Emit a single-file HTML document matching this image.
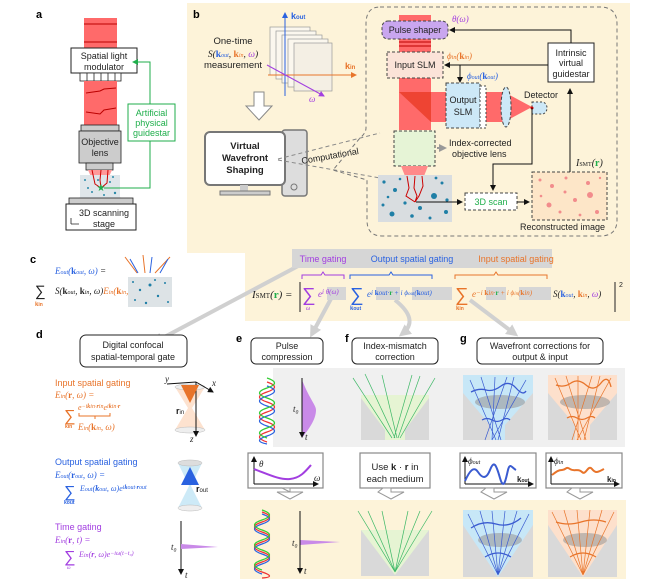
<!DOCTYPE html>
<html><head><meta charset="utf-8"><style>
html,body{margin:0;padding:0;background:#fff}
svg{display:block}
text{font-family:"Liberation Sans",sans-serif;font-size:9px;fill:#222}
.m{font-family:"Liberation Serif",serif;font-style:italic}
.b{font-weight:bold}
.lab{font-size:11px;font-weight:bold;fill:#000}
</style></head><body>
<svg width="664" height="581" viewBox="0 0 664 581" xmlns="http://www.w3.org/2000/svg">
<defs>
<marker id="ak" markerWidth="6" markerHeight="6" refX="5" refY="3" orient="auto"><path d="M0,0L6,3L0,6z" fill="#111"/></marker>
<marker id="ag" markerWidth="6" markerHeight="6" refX="5" refY="3" orient="auto"><path d="M0,0L6,3L0,6z" fill="#1fae4b"/></marker>
<marker id="ab" markerWidth="6" markerHeight="6" refX="5" refY="3" orient="auto"><path d="M0,0L6,3L0,6z" fill="#2a62e0"/></marker>
<marker id="ap" markerWidth="6" markerHeight="6" refX="5" refY="3" orient="auto"><path d="M0,0L6,3L0,6z" fill="#a23ee0"/></marker>
<marker id="ao" markerWidth="6" markerHeight="6" refX="5" refY="3" orient="auto"><path d="M0,0L6,3L0,6z" fill="#e8742a"/></marker>
<marker id="ay" markerUnits="userSpaceOnUse" markerWidth="12" markerHeight="12" refX="8" refY="6" orient="auto"><path d="M0,0L12,6L0,12z" fill="#d0d0d0"/></marker>
<marker id="ay2" markerUnits="userSpaceOnUse" markerWidth="8" markerHeight="8" refX="5" refY="4" orient="auto"><path d="M0,0L8,4L0,8z" fill="#999"/></marker>
</defs>

<path d="M187,3H630V321H245V253H187Z" fill="#fdf3d9"/>
<rect x="240" y="500" width="386" height="79" fill="#fdf3d9"/>
<rect x="273" y="368" width="352" height="79" fill="#f0f0f0"/>

<g stroke="#d0d0d0" stroke-width="4" fill="none">
<path d="M300,265L155,342" marker-end="url(#ay)"/>
<path d="M333,295L312,334" marker-end="url(#ay)"/>
<path d="M395,300Q420,320 402,334" marker-end="url(#ay)"/>
<path d="M470,300L515,334" marker-end="url(#ay)"/>
</g>

<!-- Panel a -->
<text x="36" y="18" class="lab">a</text>
<rect x="84" y="18" width="33" height="30" fill="#ff6a6a"/>
<line x1="84" y1="24" x2="117" y2="24" stroke="#b00"/>
<line x1="84" y1="42" x2="117" y2="42" stroke="#b00"/>
<rect x="71" y="48" width="66" height="25" fill="#fff" stroke="#222"/>
<text x="104" y="59" text-anchor="middle">Spatial light</text>
<text x="104" y="70" text-anchor="middle">modulator</text>
<rect x="80" y="73" width="41" height="8" fill="#fff" stroke="#222" stroke-width="0.8"/>
<g stroke="#222" stroke-width="0.8"><line x1="87" y1="73" x2="87" y2="81"/><line x1="94" y1="73" x2="94" y2="81"/><line x1="101" y1="73" x2="101" y2="81"/><line x1="108" y1="73" x2="108" y2="81"/><line x1="115" y1="73" x2="115" y2="81"/></g>
<rect x="84" y="81" width="33" height="44" fill="#ff6a6a"/>
<path d="M86,93L100,91L104,89L116,88M86,112L100,114L104,110L116,108" stroke="#b00" fill="none"/>
<rect x="81" y="125" width="38" height="6" fill="#ccc" stroke="#222" stroke-width="0.8"/>
<rect x="79" y="131" width="42" height="32" fill="#ccc" stroke="#222" stroke-width="0.8"/>
<text x="100" y="145" text-anchor="middle">Objective</text>
<text x="100" y="156" text-anchor="middle">lens</text>
<rect x="86" y="163" width="27" height="7" fill="#ccc" stroke="#222" stroke-width="0.8"/>
<path d="M88,170L112,170L104,188L96,188Z" fill="#ff9a9a"/>
<rect x="80" y="175" width="40" height="23" fill="#dfe6ea"/>
<g fill="#2a8aa8"><circle cx="85" cy="180" r="1"/><circle cx="92" cy="192" r="1"/><circle cx="110" cy="182" r="1"/><circle cx="115" cy="193" r="1.2"/><circle cx="88" cy="188" r="1"/><circle cx="104" cy="195" r="1"/><circle cx="98" cy="180" r="1"/><circle cx="113" cy="177" r="1"/></g>
<path d="M92,170L95,184L101,188M101,170L100,180L101,188M108,170L107,183L101,188" stroke="#c00" fill="none"/>
<text x="101" y="191" text-anchor="middle" style="fill:#1fae4b;font-size:10px">★</text>
<path d="M80,198L74,204M120,198L126,204" stroke="#222"/>
<rect x="69" y="198" width="64" height="6" fill="#ccc" stroke="#222" stroke-width="0.8"/>
<rect x="66" y="204" width="70" height="26" fill="#fff" stroke="#222"/>
<text x="104" y="216" text-anchor="middle">3D scanning</text>
<text x="104" y="227" text-anchor="middle">stage</text>
<path d="M71,224h8M71,224v-6" stroke="#222" stroke-width="0.8"/>
<path d="M150,104V62H133" stroke="#1fae4b" fill="none" marker-end="url(#ag)"/>
<path d="M150,141V188H104" stroke="#1fae4b" fill="none"/>
<rect x="128" y="104" width="47" height="37" fill="#fff" stroke="#1fae4b"/>
<text x="151.5" y="116" text-anchor="middle" style="fill:#1fae4b">Artificial</text>
<text x="151.5" y="126" text-anchor="middle" style="fill:#1fae4b">physical</text>
<text x="151.5" y="136" text-anchor="middle" style="fill:#1fae4b">guidestar</text>

<!-- Panel b -->
<text x="193" y="18" class="lab">b</text>
<text x="233" y="44" text-anchor="middle" style="font-size:9.5px">One-time</text>
<text x="233" y="57" text-anchor="middle" class="m" style="font-size:9.5px">S(<tspan class="b" style="fill:#2a62e0;font-style:normal">k</tspan><tspan style="fill:#2a62e0;font-size:6px">out</tspan>, <tspan class="b" style="fill:#e8742a;font-style:normal">k</tspan><tspan style="fill:#e8742a;font-size:6px">in</tspan>, <tspan style="fill:#a23ee0">ω</tspan>)</text>
<text x="233" y="68" text-anchor="middle" style="font-size:9.5px">measurement</text>
<g fill="#fbf7ee" stroke="#999" stroke-width="0.7">
<rect x="270" y="27" width="40" height="48"/><rect x="276" y="31" width="40" height="48"/><rect x="282" y="35" width="40" height="48"/><rect x="288" y="39" width="40" height="48"/><rect x="294" y="43" width="38" height="48" fill="#f4efe4"/>
</g>
<line x1="268" y1="75" x2="356" y2="75" stroke="#e8742a" marker-end="url(#ao)"/>
<text x="345" y="69" class="b" style="fill:#e8742a">k<tspan style="font-size:6px">in</tspan></text>
<line x1="285" y1="96" x2="285" y2="13" stroke="#2a62e0" marker-end="url(#ab)"/>
<text x="291" y="19" class="b" style="fill:#2a62e0">k<tspan style="font-size:6px">out</tspan></text>
<line x1="267" y1="65" x2="324" y2="96" stroke="#a23ee0" marker-end="url(#ap)"/>
<text x="309" y="102" class="m" style="fill:#a23ee0">ω</text>
<path d="M254,92h10v14h8l-13,14l-13,-14h8z" fill="#fff" stroke="#888"/>
<rect x="282" y="130" width="25" height="66" rx="3" fill="#ddd" stroke="#777" stroke-width="1.5"/>
<circle cx="294" cy="187" r="3" fill="none" stroke="#777"/>
<rect x="205" y="132" width="80" height="53" rx="5" fill="#fff" stroke="#777" stroke-width="2"/>
<rect x="240" y="185" width="8" height="6" fill="#ccc"/>
<rect x="220" y="191" width="50" height="4" fill="#ccc" stroke="#777"/>
<text x="245" y="149" text-anchor="middle" class="b" style="font-size:9.5px">Virtual</text>
<text x="245" y="161" text-anchor="middle" class="b" style="font-size:9.5px">Wavefront</text>
<text x="245" y="173" text-anchor="middle" class="b" style="font-size:9.5px">Shaping</text>
<path d="M278,159L380,133M278,160L380,178" stroke="#888" stroke-dasharray="4,3" fill="none"/>
<text x="302" y="164" transform="rotate(-10 302 164)">Computational</text>
<path d="M380,7H600Q617,7 617,24V220Q617,236 600,236H382Q367,236 367,220V180L333,170L360,138Q366,133 366,128V24Q366,7 380,7Z" fill="none" stroke="#777" stroke-dasharray="4,3"/>
<rect x="399" y="15" width="32" height="115" fill="#ff6a6a"/>
<rect x="431" y="92" width="73" height="30" fill="#ff6a6a"/>
<path d="M399,92h32v30z" fill="#e43"/>
<path d="M504,92L532,107L504,122Z" fill="#ff6a6a"/>
<line x1="399" y1="42" x2="431" y2="42" stroke="#b00"/><line x1="399" y1="46" x2="431" y2="46" stroke="#b00"/>
<rect x="382" y="21" width="66" height="18" rx="6" fill="#c9a6ef" stroke="#444" stroke-dasharray="3,2"/>
<text x="415" y="33" text-anchor="middle">Pulse shaper</text>
<text x="452" y="22" class="m" style="fill:#a23ee0">θ(ω)</text>
<rect x="387" y="52" width="56" height="26" fill="#fbe3d8" stroke="#444" stroke-dasharray="3,2"/>
<text x="415" y="68" text-anchor="middle">Input SLM</text>
<text x="447" y="59" class="m" style="fill:#e8742a">ϕ<tspan style="font-size:6px">in</tspan>(<tspan class="b" style="font-style:normal">k</tspan><tspan style="font-size:6px">in</tspan>)</text>
<rect x="446" y="83" width="34" height="45" fill="#cde8f7" stroke="#444" stroke-dasharray="3,2"/>
<rect x="480" y="86" width="6" height="42" fill="#fff" stroke="#444" stroke-dasharray="2,2"/>
<text x="463" y="103" text-anchor="middle">Output</text>
<text x="463" y="115" text-anchor="middle">SLM</text>
<text x="467" y="79" class="m" style="fill:#2a62e0">ϕ<tspan style="font-size:6px">out</tspan>(<tspan class="b" style="font-style:normal">k</tspan><tspan style="font-size:6px">out</tspan>)</text>
<ellipse cx="506" cy="107" rx="5" ry="20" fill="#cde8f7" stroke="#444" stroke-dasharray="3,2"/>
<path d="M532,102h10a5,6 0 0 1 0,12h-10z" fill="#cde8f7" stroke="#444" stroke-dasharray="2,2"/>
<circle cx="532" cy="108" r="1.5" fill="#c00"/>
<text x="524" y="98">Detector</text>
<rect x="548" y="43" width="46" height="39" fill="#fff" stroke="#222"/>
<text x="571" y="56" text-anchor="middle">Intrinsic</text>
<text x="571" y="66" text-anchor="middle">virtual</text>
<text x="571" y="77" text-anchor="middle">guidestar</text>
<path d="M571,43V30H450" stroke="#111" fill="none" marker-end="url(#ak)"/>
<path d="M548,65H445" stroke="#111" fill="none" marker-end="url(#ak)"/>
<path d="M460,65V82" stroke="#111" fill="none" marker-end="url(#ak)"/>
<rect x="394" y="131" width="41" height="35" fill="#e6f4d6" stroke="#444" stroke-dasharray="3,2"/>
<path d="M401,166h27l-4,10h-19z" fill="#ff8a8a"/>
<path d="M437,148H444" stroke="#999" stroke-width="2" marker-end="url(#ay2)"/>
<text x="449" y="146">Index-corrected</text>
<text x="452" y="157">objective lens</text>
<rect x="378" y="175" width="74" height="47" fill="#d9dde0"/>
<g fill="#1f7fa6"><circle cx="384" cy="182" r="1.6"/><circle cx="395" cy="190" r="2"/><circle cx="383" cy="205" r="1.5"/><circle cx="392" cy="214" r="2.5"/><circle cx="405" cy="203" r="1.6"/><circle cx="412" cy="216" r="1.8"/><circle cx="420" cy="208" r="2"/><circle cx="434" cy="196" r="3"/><circle cx="442" cy="183" r="1.5"/><circle cx="446" cy="212" r="2"/><circle cx="430" cy="218" r="1.5"/><circle cx="436" cy="178" r="1.4"/><circle cx="400" cy="179" r="1.3"/><circle cx="388" cy="197" r="1.3"/><circle cx="447" cy="200" r="1.6"/></g>
<path d="M407,176l2,12l-3,8l9,6M415,176l-1,12l3,8l-2,6M422,176l1,10l-4,10l-4,6" stroke="#c00" fill="none"/>
<path d="M416,202H462" stroke="#111" marker-end="url(#ak)"/>
<rect x="465" y="193" width="52" height="17" fill="#fff" stroke="#444" stroke-dasharray="3,2"/>
<text x="491" y="205" text-anchor="middle" style="fill:#1fae4b">3D scan</text>
<path d="M517,202H529" stroke="#111" marker-end="url(#ak)"/>
<path d="M532,108V164H493V190" stroke="#111" fill="none" marker-end="url(#ak)"/>
<rect x="532" y="172" width="75" height="48" fill="#fde6c8" stroke="#444" stroke-dasharray="3,2"/>
<g fill="#f28c8c"><circle cx="540" cy="180" r="1.5"/><circle cx="552" cy="186" r="2"/><circle cx="566" cy="178" r="1.5"/><circle cx="588" cy="183" r="2"/><circle cx="600" cy="178" r="1.2"/><circle cx="590" cy="195" r="3"/><circle cx="575" cy="200" r="2"/><circle cx="549" cy="205" r="2.5"/><circle cx="560" cy="212" r="1.5"/><circle cx="597" cy="212" r="2"/><circle cx="580" cy="215" r="1.4"/><circle cx="541" cy="196" r="1.3"/><circle cx="565" cy="192" r="1.5"/></g>
<text x="520" y="230">Reconstructed image</text>
<path d="M570,172V89" stroke="#111" marker-end="url(#ak)"/>
<text x="576" y="166" class="m" style="font-size:10px">I<tspan style="font-size:6px;font-style:normal">SMT</tspan>(<tspan class="b" style="fill:#1fae4b;font-style:normal">r</tspan>)</text>

<!-- Panel c -->
<text x="30" y="263" class="lab">c</text>
<text x="55" y="274" class="m" style="fill:#2a62e0">E<tspan style="font-size:6px">out</tspan>(<tspan class="b" style="font-style:normal">k</tspan><tspan style="font-size:6px">out</tspan>, ω) <tspan style="fill:#222">=</tspan></text>
<text x="35" y="296" style="font-size:15px">∑</text>
<text x="35" y="306" class="b" style="fill:#e8742a;font-size:6px">k<tspan style="font-size:5px">in</tspan></text>
<text x="55" y="294" class="m">S(<tspan class="b" style="font-style:normal">k</tspan><tspan style="font-size:6px">out</tspan>, <tspan class="b" style="font-style:normal">k</tspan><tspan style="font-size:6px">in</tspan>, ω)<tspan style="fill:#e8742a">E<tspan style="font-size:6px">in</tspan>(<tspan class="b" style="font-style:normal">k</tspan><tspan style="font-size:6px">in</tspan>, ω)</tspan></text>
<rect x="128" y="277" width="44" height="30" fill="#dde3e6"/>
<g fill="#1f7fa6"><circle cx="133" cy="282" r="1"/><circle cx="140" cy="290" r="1.2"/><circle cx="150" cy="285" r="1.5"/><circle cx="158" cy="296" r="1.2"/><circle cx="165" cy="283" r="1"/><circle cx="135" cy="300" r="1"/><circle cx="146" cy="303" r="1.2"/><circle cx="168" cy="302" r="1"/><circle cx="155" cy="280" r="1"/></g>
<g stroke="#e8742a"><path d="M125,257L137,273M143,255L145,273M170,257L155,273"/></g>
<g stroke="#2a62e0"><path d="M138,273L130,259M150,273L152,257M160,273L168,259"/></g>

<rect x="292" y="249" width="260" height="19" fill="#d6d6d6"/>
<text x="323" y="262" text-anchor="middle" style="fill:#a23ee0">Time gating</text>
<text x="412" y="262" text-anchor="middle" style="fill:#2a62e0">Output spatial gating</text>
<text x="516" y="262" text-anchor="middle" style="fill:#e8742a">Input spatial gating</text>
<path d="M302,279v-4h19l2,-3l2,3h19v4" stroke="#a23ee0" fill="none"/>
<path d="M350,279v-4h39l2,-3l2,3h39v4" stroke="#2a62e0" fill="none"/>
<path d="M455,279v-4h39l2,-3l2,3h49v4" stroke="#e8742a" fill="none"/>
<rect x="327" y="287" width="19" height="13" fill="#d6d6d6"/>
<rect x="376" y="287" width="24" height="13" fill="#d6d6d6"/>
<rect x="412" y="287" width="40" height="13" fill="#d6d6d6"/>
<rect x="486" y="287" width="20" height="13" fill="#d6d6d6"/>
<rect x="519" y="287" width="32" height="13" fill="#d6d6d6"/>
<text x="252" y="298" class="m" style="font-size:11px">I<tspan style="font-size:7px;font-style:normal">SMT</tspan>(<tspan class="b" style="fill:#1fae4b;font-style:normal">r</tspan>) =</text>
<line x1="300" y1="282" x2="300" y2="312" stroke="#222"/>
<line x1="615" y1="282" x2="615" y2="312" stroke="#222"/>
<text x="619" y="287" style="font-size:7px">2</text>
<text x="302" y="301" style="font-size:19px;fill:#a23ee0">∑</text>
<text x="306" y="310" class="m" style="font-size:6px;fill:#a23ee0">ω</text>
<text x="318" y="297" class="m" style="fill:#a23ee0;font-size:9px">e<tspan dy="-3" style="font-size:7px">i θ(ω)</tspan></text>
<text x="350" y="301" style="font-size:19px;fill:#2a62e0">∑</text>
<text x="350" y="310" class="b" style="font-size:6px;fill:#2a62e0">k<tspan style="font-size:5px">out</tspan></text>
<text x="367" y="297" class="m" style="fill:#2a62e0;font-size:9px">e<tspan dy="-2" style="font-size:7px">i <tspan class="b" style="font-style:normal">k</tspan>out·<tspan class="b" style="fill:#1fae4b;font-style:normal">r</tspan> + i ϕ<tspan style="font-size:5px">out</tspan>(<tspan class="b" style="font-style:normal">k</tspan>out)</tspan></text>
<text x="455" y="301" style="font-size:19px;fill:#e8742a">∑</text>
<text x="456" y="310" class="b" style="font-size:6px;fill:#e8742a">k<tspan style="font-size:5px">in</tspan></text>
<text x="472" y="297" class="m" style="fill:#e8742a;font-size:9px">e<tspan dy="-2" style="font-size:7px">−i <tspan class="b" style="font-style:normal">k</tspan>in·<tspan class="b" style="fill:#1fae4b;font-style:normal">r</tspan> + i ϕ<tspan style="font-size:5px">in</tspan>(<tspan class="b" style="font-style:normal">k</tspan>in)</tspan></text>
<text x="553" y="297" class="m" style="font-size:9px">S(<tspan class="b" style="fill:#2a62e0;font-style:normal">k</tspan><tspan style="fill:#2a62e0;font-size:6px">out</tspan>, <tspan class="b" style="fill:#e8742a;font-style:normal">k</tspan><tspan style="fill:#e8742a;font-size:6px">in</tspan>, <tspan style="fill:#a23ee0">ω</tspan>)</text>

<!-- Panel d -->
<text x="36" y="338" class="lab">d</text>
<rect x="80" y="335" width="107" height="32" rx="6" fill="#fff" stroke="#222"/>
<text x="133" y="348" text-anchor="middle">Digital confocal</text>
<text x="133" y="360" text-anchor="middle">spatial-temporal gate</text>
<text x="55" y="386" style="fill:#e8742a">Input spatial gating</text>
<text x="55" y="398" class="m" style="fill:#e8742a">E<tspan style="font-size:6px">in</tspan>(<tspan class="b" style="font-style:normal">r</tspan>, ω) =</text>
<text x="64" y="421" style="font-size:16px;fill:#e8742a">∑</text>
<text x="65" y="428" class="b" style="font-size:5px;fill:#e8742a">kin</text>
<text x="78" y="410" class="m" style="fill:#e8742a;font-size:8px">e<tspan dy="-2" style="font-size:6px">−i<tspan class="b">k</tspan>in·<tspan class="b">r</tspan>in</tspan><tspan dy="2">e</tspan><tspan dy="-2" style="font-size:6px">i<tspan class="b">k</tspan>in·<tspan class="b">r</tspan></tspan></text>
<path d="M79,413v3h31v-3M95,416v3" stroke="#e8742a" fill="none"/>
<text x="78" y="430" class="m" style="fill:#e8742a">E<tspan style="font-size:6px">in</tspan>(<tspan class="b" style="font-style:normal">k</tspan><tspan style="font-size:6px">in</tspan>, ω)</text>
<path d="M175,387L205,387L192,408L205,430L175,430L188,408Z" fill="#fde2cf"/>
<ellipse cx="190" cy="387" rx="15" ry="3" fill="#eee" stroke="#bbb" stroke-width="0.5"/>
<ellipse cx="190" cy="430" rx="15" ry="3" fill="#eee" stroke="#bbb" stroke-width="0.5"/>
<path d="M196,382V436" stroke="#111" marker-end="url(#ak)"/>
<path d="M196,382L167,384M196,382L213,392" stroke="#111" marker-end="url(#ak)"/>
<text x="165" y="382" class="m">y</text><text x="212" y="386" class="m">x</text><text x="190" y="442" class="m">z</text>
<path d="M190,394v6" stroke="#e8a070" stroke-width="3" marker-end="url(#ao)"/>
<text x="176" y="414" class="b">r<tspan style="font-size:6px;font-weight:normal">in</tspan></text>
<text x="55" y="465" style="fill:#2a62e0">Output spatial gating</text>
<text x="55" y="478" class="m" style="fill:#2a62e0">E<tspan style="font-size:6px">out</tspan>(<tspan class="b" style="font-style:normal">r</tspan><tspan style="font-size:6px">out</tspan>, ω) =</text>
<text x="64" y="497" style="font-size:16px;fill:#2a62e0">∑</text>
<text x="64" y="504" class="b" style="font-size:5px;fill:#2a62e0">kout</text>
<text x="80" y="491" class="m" style="fill:#2a62e0;font-size:8px">E<tspan style="font-size:6px">out</tspan>(<tspan class="b">k</tspan><tspan style="font-size:6px">out</tspan>, ω)e<tspan dy="-2" style="font-size:6px">i<tspan class="b">k</tspan>out·<tspan class="b">r</tspan>out</tspan></text>
<path d="M178,463L202,463L191,486L202,508L178,508L189,486Z" fill="#cdeaf7"/>
<ellipse cx="190" cy="463" rx="12" ry="3" fill="#ddd" stroke="#bbb" stroke-width="0.5"/>
<ellipse cx="190" cy="508" rx="12" ry="3" fill="#eee" stroke="#bbb" stroke-width="0.5"/>
<path d="M190,478v-8" stroke="#29a0d8" stroke-width="3" marker-end="url(#ab)"/>
<text x="196" y="492" class="b">r<tspan style="font-size:6px;font-weight:normal">out</tspan></text>
<text x="55" y="530" style="fill:#a23ee0">Time gating</text>
<text x="55" y="543" class="m" style="fill:#a23ee0">E<tspan style="font-size:6px">in</tspan>(<tspan class="b" style="font-style:normal">r</tspan>, t) =</text>
<text x="64" y="562" style="font-size:16px;fill:#a23ee0">∑</text>
<text x="67" y="569" class="m" style="font-size:5px;fill:#a23ee0">ω</text>
<text x="79" y="557" class="m" style="fill:#a23ee0;font-size:8px">E<tspan style="font-size:6px">in</tspan>(<tspan class="b">r</tspan>, ω)e<tspan dy="-2" style="font-size:6px">−iω(t−t₀)</tspan></text>
<path d="M181,521V574" stroke="#111" marker-end="url(#ak)"/>
<path d="M181,544L218,547L181,549Z" fill="#c98ae8"/>
<text x="171" y="550" class="m">t₀</text><text x="185" y="578" class="m">t</text>

<!-- e f g -->
<text x="236" y="342" class="lab">e</text>
<rect x="251" y="338" width="72" height="26" rx="5" fill="#fff" stroke="#222"/>
<text x="287" y="349" text-anchor="middle">Pulse</text>
<text x="287" y="360" text-anchor="middle">compression</text>
<text x="345" y="342" class="lab">f</text>
<rect x="352" y="338" width="86" height="26" rx="5" fill="#fff" stroke="#222"/>
<text x="395" y="349" text-anchor="middle">Index-mismatch</text>
<text x="395" y="360" text-anchor="middle">correction</text>
<text x="460" y="342" class="lab">g</text>
<rect x="477" y="338" width="126" height="26" rx="5" fill="#fff" stroke="#222"/>
<text x="540" y="349" text-anchor="middle">Wavefront corrections for</text>
<text x="540" y="360" text-anchor="middle">output &amp; input</text>

<g fill="none" stroke-width="1.2">
<path d="M260,382q15,5 0,10t0,10t0,10t0,10t0,10t0,10" stroke="#e33" transform="translate(7,0)"/>
<path d="M260,386q15,5 0,10t0,10t0,10t0,10t0,10t0,8" stroke="#2a62e0" transform="translate(7,0)"/>
<path d="M260,378q15,5 0,10t0,10t0,10t0,10t0,10t0,10" stroke="#3c3" transform="translate(7,0)"/>
</g>
<path d="M302,380C310,400 316,405 316,410C316,420 308,430 302,438Z" fill="#c98ae8"/>
<path d="M302,378V437" stroke="#111" marker-end="url(#ak)"/>
<text x="293" y="412" class="m">t₀</text><text x="305" y="440" class="m">t</text>
<rect x="361" y="395" width="68" height="45" fill="#d9d9d9"/>
<path d="M361,395H429V398L405,430V440H385V430L361,398Z" fill="#e6f4d3"/>
<g stroke="#3db866" stroke-width="0.7"><path d="M353,378L392,438M365,374L395,438M382,375L397,438M412,375L394,438M420,376L398,438M435,378L400,438"/></g>
<rect x="463" y="375" width="70" height="65" fill="#d9d9d9"/>
<path d="M463,375H533V393L505,425V440H490V425L463,393Z" fill="#c7e7f7"/>
<rect x="548" y="375" width="69" height="65" fill="#d9d9d9"/>
<path d="M548,375H617V393L590,425V440H575V425L548,393Z" fill="#fde0cc"/>
<ellipse cx="500" cy="402" rx="25" ry="7" fill="#999" opacity="0.6"/>
<ellipse cx="585" cy="402" rx="25" ry="7" fill="#999" opacity="0.6"/>
<g stroke="#3a5bd0" stroke-width="0.7"><path d="M470,380L496,440M481,377L501,440M495,377L492,440M507,377L485,440M514,377L498,440M526,380L492,440"/></g>
<path d="M471,392q8,-4 15,-2t15,-4t15,2t10,3" stroke="#3a5bd0" stroke-width="1.3" fill="none"/>
<path d="M482,420q5,-3 10,0t10,0t8,0" stroke="#3a5bd0" stroke-width="1.3" fill="none"/>
<g stroke="#e8742a" stroke-width="0.7"><path d="M555,378L581,440M566,376L586,440M578,376L578,440M592,376L572,440M600,376L584,440M611,378L577,440"/></g>
<path d="M556,385q8,3 15,-2t15,2t15,-2t10,4" stroke="#e8742a" stroke-width="1.3" fill="none"/>
<path d="M567,418q5,-3 10,0t10,0t8,0" stroke="#e8742a" stroke-width="1.3" fill="none"/>

<g fill="#fff" stroke="#888" stroke-width="1.2">
<rect x="248" y="453" width="75" height="35"/><rect x="360" y="453" width="70" height="35"/>
<rect x="460" y="453" width="76" height="35"/><rect x="546" y="453" width="76" height="35"/>
</g>
<g stroke="#111" fill="none"><path d="M254,484H318" marker-end="url(#ak)"/><path d="M254,484V457" marker-end="url(#ak)"/>
<path d="M465,484H533" marker-end="url(#ak)"/><path d="M465,484V457" marker-end="url(#ak)"/><path d="M551,484H619" marker-end="url(#ak)"/><path d="M551,484V457" marker-end="url(#ak)"/></g>
<text x="259" y="467" class="m">θ</text><text x="314" y="481" class="m">ω</text>
<path d="M254,469C270,475 280,480 290,479C300,478 305,472 311,465" stroke="#a23ee0" stroke-width="2" fill="none"/>
<text x="395" y="470" text-anchor="middle" style="font-size:9.5px">Use <tspan class="b">k</tspan> · <tspan class="b">r</tspan> in</text>
<text x="395" y="482" text-anchor="middle" style="font-size:9.5px">each medium</text>
<text x="468" y="464" class="m">ϕ<tspan style="font-size:6px">out</tspan></text>
<text x="517" y="482" class="b" style="font-size:8px">k<tspan style="font-size:5px">out</tspan></text>
<path d="M465,481C470,470 474,466 478,472S486,480 490,470S496,464 500,478S506,478 508,470S512,468 516,470" stroke="#3a5bd0" stroke-width="2" fill="none"/>
<text x="554" y="464" class="m">ϕ<tspan style="font-size:6px">in</tspan></text>
<text x="607" y="482" class="b" style="font-size:8px">k<tspan style="font-size:5px">in</tspan></text>
<path d="M552,475C556,472 558,470 562,470S566,466 570,469S578,468 582,472S588,464 592,469S598,472 604,469" stroke="#e8742a" stroke-width="2" fill="none"/>
<g fill="#fff" stroke="#999"><path d="M282,488h8v4h13l-13,7l-13,-7h13z"/><path d="M383,488h8v4h13l-13,7l-13,-7z"/><path d="M486,488h8v4h13l-13,7l-13,-7z"/><path d="M572,488h8v4h13l-13,7l-13,-7z"/></g>

<g fill="none" stroke-width="1.2">
<path d="M262,512q15,5 0,10t0,10t0,10t0,10t0,10t0,10t0,6" stroke="#e33"/>
<path d="M262,514q15,5 0,10t0,10t0,10t0,10t0,10t0,10" stroke="#2a62e0"/>
<path d="M262,510q15,5 0,10t0,10t0,10t0,10t0,10t0,10" stroke="#3c3"/>
</g>
<path d="M300,540L340,542L300,545Z" fill="#c98ae8"/>
<path d="M300,511V573" stroke="#111" marker-end="url(#ak)"/>
<text x="292" y="546" class="m">t₀</text><text x="304" y="574" class="m">t</text>
<rect x="361" y="530" width="68" height="46" fill="#d9d9d9"/>
<path d="M361,530H429L395,575Z" fill="#e6f4d3"/>
<g stroke="#3db866" stroke-width="0.7"><path d="M358,511L395,572M368,511L395,572M382,511L395,572M408,511L395,572M420,511L395,572M432,511L395,572"/></g>
<rect x="463" y="510" width="70" height="67" fill="#d9d9d9"/>
<path d="M463,510H533V525L498,577L463,525Z" fill="#c7e7f7"/>
<ellipse cx="500" cy="540" rx="22" ry="7" fill="#999" opacity="0.6"/>
<g stroke="#3a5bd0" stroke-width="0.7"><path d="M468,514L498,575M480,511L498,575M492,511L498,575M505,511L498,575M517,511L498,575M529,514L498,575"/></g>
<path d="M471,528q12,-8 25,-4t25,-6" stroke="#3a5bd0" stroke-width="1.3" fill="none"/>
<path d="M485,557q13,-8 26,0" stroke="#3a5bd0" stroke-width="1.3" fill="none"/>
<rect x="548" y="510" width="69" height="67" fill="#d9d9d9"/>
<path d="M548,510H617V525L583,577L548,525Z" fill="#fde0cc"/>
<ellipse cx="585" cy="540" rx="22" ry="7" fill="#999" opacity="0.6"/>
<g stroke="#e8742a" stroke-width="0.7"><path d="M552,512L583,575M564,510L583,575M577,510L583,575M590,510L583,575M602,510L583,575M614,512L583,575"/></g>
<path d="M556,522q12,4 25,0t25,0" stroke="#e8742a" stroke-width="1.3" fill="none"/>
<path d="M570,557q13,-8 26,0" stroke="#e8742a" stroke-width="1.3" fill="none"/>
</svg>
</body></html>
